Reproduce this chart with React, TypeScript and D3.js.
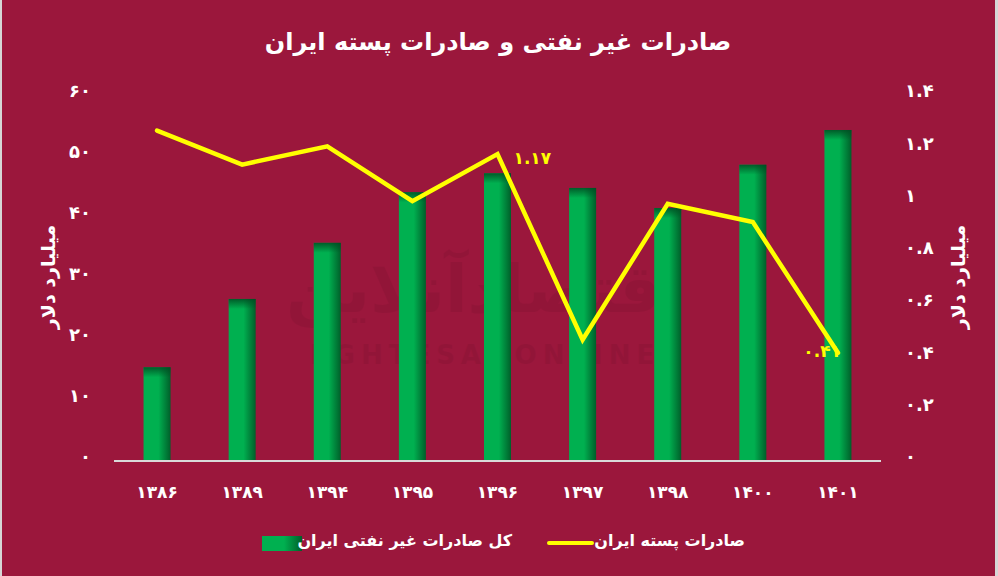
import React from 'react';
import * as d3 from 'd3';

// سال‌ها (شمسی)
const years = ['1386', '1389', '1394', '1395', '1396', '1397', '1398', '1400', '1401'];
// کل صادرات غیر نفتی ایران (میلیارد دلار)
const nonOilExports = [15.2, 26.4, 35.6, 43.9, 47.0, 44.6, 41.3, 48.4, 54.1];
// صادرات پسته ایران (میلیارد دلار)
const pistachioExports = [1.26, 1.13, 1.2, 0.99, 1.17, 0.46, 0.98, 0.91, 0.41];
// years whose pistachio value is labelled
const labelledYears = ['1396', '1401'];

const leftTicks = [0, 10, 20, 30, 40, 50, 60];
const rightTicks = [0, 0.2, 0.4, 0.6, 0.8, 1, 1.2, 1.4];

const title = 'صادرات غیر نفتی و صادرات پسته ایران';
const axisTitle = 'میلیارد دلار';
const barSeriesName = 'کل صادرات غیر نفتی ایران';
const lineSeriesName = 'صادرات پسته ایران';

const width = 998;
const height = 576;
const bg = '#9b173c';
const font = '"DejaVu Sans", sans-serif';

// convert latin digits to persian digits
const fa = (s: string | number) =>
  String(s).replace(/[0-9]/g, d => '۰۱۲۳۴۵۶۷۸۹'[+d]);

const App: React.FC = () => {
  const x = d3.scaleBand<string>()
    .domain(years)
    .range([114.5, 880.5])
    .padding(0);

  const yLeft = d3.scaleLinear().domain([0, 60]).range([460, 94]);
  const yRight = d3.scaleLinear().domain([0, 1.4]).range([460, 94]);

  const barW = 27;
  const cx = (d: string) => (x(d) ?? 0) + x.bandwidth() / 2;

  const line = d3.line<number>()
    .x((_, i) => cx(years[i]))
    .y(d => yRight(d));

  return (
    <svg width={width} height={height} style={{ position: 'absolute', left: 0, top: 0 }}
      fontFamily={font}>
      <defs>
        <linearGradient id="barH" x1="0" x2="1" y1="0" y2="0">
          <stop offset="0" stopColor="#00b050" />
          <stop offset="0.55" stopColor="#00b050" />
          <stop offset="1" stopColor="#005f2a" />
        </linearGradient>
        <linearGradient id="barV" x1="0" x2="0" y1="0" y2="1">
          <stop offset="0" stopColor="#004d22" stopOpacity="0.85" />
          <stop offset="1" stopColor="#004d22" stopOpacity="0" />
        </linearGradient>
      </defs>

      <rect x={0} y={0} width={width} height={height} fill={bg} />
      <rect x={0} y={0} width={2} height={height} fill="#d6d6d6" />
      <rect x={width - 3} y={0} width={3} height={height} fill="#d6d6d6" />

      {/* watermark */}
      <g fill="#000" opacity={0.05} fontWeight="bold" textAnchor="middle">
        <text x={485} y={312} fontSize={66}>اقتصادآنلاین</text>
        <text x={485} y={364} fontSize={26} letterSpacing={6}>EGHTESADONLINE</text>
      </g>

      <text x={498} y={50} textAnchor="middle" fill="#fff" fontWeight="bold" fontSize={24}>
        {title}
      </text>

      {/* left axis */}
      {leftTicks.map(t => (
        <text key={t} x={91} y={yLeft(t) - 3} dy="0.35em" textAnchor="end"
          fill="#fff" fontWeight="bold" fontSize={18}>{fa(t)}</text>
      ))}
      <text transform={`translate(48,277) rotate(-90)`} textAnchor="middle" dy="0.35em"
        fill="#fff" fontWeight="bold" fontSize={19}>{axisTitle}</text>

      {/* right axis */}
      {rightTicks.map(t => (
        <text key={t} x={905} y={yRight(t) - 3} dy="0.35em" textAnchor="start"
          fill="#fff" fontWeight="bold" fontSize={18}>{fa(t)}</text>
      ))}
      <text transform={`translate(958,277) rotate(-90)`} textAnchor="middle" dy="0.35em"
        fill="#fff" fontWeight="bold" fontSize={19}>{axisTitle}</text>

      {/* bars */}
      {years.map((yr, i) => {
        const top = yLeft(nonOilExports[i]);
        const h = yLeft(0) - top;
        return (
          <g key={yr}>
            <rect x={cx(yr) - barW / 2} y={top} width={barW} height={h} fill="url(#barH)" />
            <rect x={cx(yr) - barW / 2} y={top} width={barW} height={Math.min(10, h)} fill="url(#barV)" />
          </g>
        );
      })}

      {/* x axis */}
      <line x1={114} x2={881} y1={461} y2={461} stroke="#d9d9d9" strokeWidth={2} />
      {years.map(yr => (
        <text key={yr} x={cx(yr)} y={492} dy="0.35em" textAnchor="middle"
          fill="#fff" fontWeight="bold" fontSize={17}>{fa(yr)}</text>
      ))}

      {/* line */}
      <path d={line(pistachioExports) ?? ''} fill="none" stroke="#ffff00" strokeWidth={4.5}
        strokeLinejoin="miter" strokeLinecap="round" />

      {years.map((yr, i) => labelledYears.includes(yr) ? (
        <text key={yr}
          x={yr === '1401' ? cx(yr) + 3 : cx(yr) + 16}
          y={yRight(pistachioExports[i]) + (yr === '1401' ? -2 : 4)}
          dy="0.35em" textAnchor={yr === '1401' ? 'end' : 'start'}
          fill="#ffff00" fontWeight="bold" fontSize={17}>
          {fa(pistachioExports[i].toFixed(2))}
        </text>
      ) : null)}

      {/* legend */}
      <rect x={262} y={536} width={40} height={15} fill="url(#barH)" />
      <text x={512} y={540} dy="0.35em" textAnchor="end" fill="#fff" fontWeight="bold" fontSize={16}>
        {barSeriesName}
      </text>
      <line x1={549} x2={592} y1={543} y2={543} stroke="#ffff00" strokeWidth={4} strokeLinecap="round" />
      <text x={745} y={540} dy="0.35em" textAnchor="end" fill="#fff" fontWeight="bold" fontSize={16}>
        {lineSeriesName}
      </text>
    </svg>
  );
};

export default App;
